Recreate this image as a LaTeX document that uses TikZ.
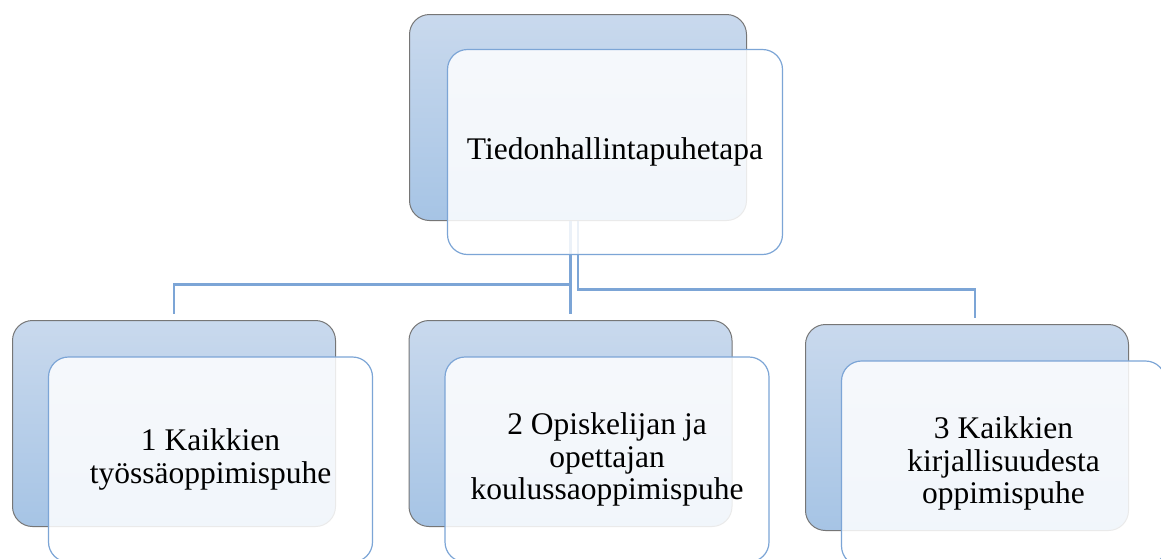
\documentclass[tikz,border=0pt]{standalone}
\usepackage{fontspec}
\setmainfont{Liberation Serif}
\usepackage{tikz}
\usetikzlibrary{calc,positioning}
\definecolor{boxtop}{RGB}{201,217,237}
\definecolor{boxbottom}{RGB}{166,196,229}
\definecolor{boxgray}{RGB}{118,118,118}
\definecolor{linkblue}{RGB}{124,165,214}

\begin{document}
\begin{tikzpicture}[x=1pt, y=-1pt,
    backbox/.style={rectangle, rounded corners=20pt, draw=boxgray, line width=1pt,
        top color=boxtop, bottom color=boxbottom,
        minimum width=337pt, minimum height=206pt, inner sep=0pt, outer sep=0pt},
    childback/.style={backbox, minimum width=323pt},
    frontbox/.style={rectangle, rounded corners=20pt, draw=linkblue, line width=1.2pt,
        fill=white, fill opacity=0.85, text opacity=1,
        minimum width=335pt, minimum height=205pt, inner sep=0pt, outer sep=0pt,
        text width=318pt, align=flush center, font=\fontsize{31.5}{32.5}\selectfont},
    childfront/.style={frontbox, minimum width=324pt, text width=310pt},
    link/.style={draw=linkblue, line width=2.5pt}]
        % Page
        \fill[white] (0,0) rectangle (1161,558);
        \useasboundingbox (0,0) rectangle (1161,558);
        \clip (0,0) rectangle (1161,558);

        % Back boxes
        \node[backbox] (topback) at (578,117.5) {};
        \node[childback] (leftback) at (174,423.5) {};
        \node[childback] (midback) at (570.5,423.5) {};
        \node[childback] (rightback) at (967,427.5) {};

        % Connectors
        \draw[link] (topback.south -| midback.north) -- ($(midback.north)+(0,-7)$);
        \draw[link] ($(topback.south -| midback.north)+(0,64)$) -| ($(leftback.north)+(0,-7)$);
        \draw[link] (topback.south) -- ++(0,69) -| ($(rightback.north)+(8,-7)$);

        % Front boxes with the texts
        \node[frontbox] (top) at ($(topback.center)+(37,34.5)$) {Tiedonhallintapuhetapa};
        \node[childfront] (left) at ($(leftback.center)+(36.5,36)$) {1 Kaikkien\\ työssäoppimispuhe};
        \node[childfront] (mid) at ($(midback.center)+(36.5,36)$) {2 Opiskelijan ja\\ opettajan\\ koulussaoppimispuhe};
        \node[childfront] (right) at ($(rightback.center)+(36.5,36)$) {3 Kaikkien\\ kirjallisuudesta\\ oppimispuhe};
    \end{tikzpicture}
\end{document}
